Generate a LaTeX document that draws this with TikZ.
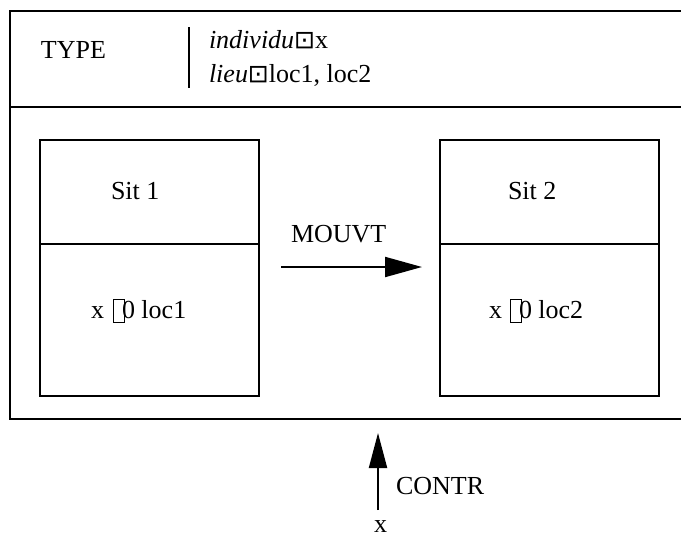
\documentclass[tikz,border=0pt]{standalone}
\usepackage{fontspec}
\setmainfont{Liberation Serif}
\newfontfamily\symfont{DejaVu Sans}
\usetikzlibrary{arrows.meta}
\newcommand{\missbox}{\raisebox{-4pt}{\fboxsep=0pt\fboxrule=1.2pt\framebox[12pt]{\rule{0pt}{22pt}}}}
\newcommand{\dotbox}{{\symfont\fontsize{25}{28}\selectfont ⊡}}
\begin{document}
\begin{tikzpicture}[x=1pt,y=-1pt,line width=2pt,
  lbl/.style={font=\fontsize{26}{30}\selectfont, inner sep=0pt, anchor=base west},
  sitbox/.style={draw, line width=2pt, inner sep=0pt, minimum width=219pt, anchor=north west},
  arr/.style={line width=2pt, -{Triangle[length=37pt,width=20pt]}}]
\useasboundingbox (0,0) rectangle (681,538);
\clip (0,0) rectangle (681,538);
% outer frame (open to the right)
\draw (700,11) -- (10,11) -- (10,419) -- (700,419);
\draw (10,107) -- (700,107);
% type header
\node[lbl] (type) at (40,58) {TYPE};
\coordinate (bar1) at (189,27);
\coordinate (bar2) at (189,88);
\draw (bar1) -- (bar2);
\node[lbl] (ind) at (208,48) {\textit{individu}\dotbox x};
\node[lbl] (lieu) at (208,82) {\textit{lieu}\dotbox loc1, loc2};
% situation 1
\node[sitbox, minimum height=104pt] (s1top) at (39,139) {};
\node[sitbox, minimum height=152pt] (s1bot) at (39,243) {};
\node[lbl] (s1t) at (110,199) {Sit 1};
\node[lbl] (s1b) at (90,318) {x\hspace{9pt}\missbox\kern-3pt 0 loc1};
% situation 2
\node[sitbox, minimum height=104pt] (s2top) at (439,139) {};
\node[sitbox, minimum height=152pt] (s2bot) at (439,243) {};
\node[lbl] (s2t) at (507,199) {Sit 2};
\node[lbl] (s2b) at (488,318) {x\hspace{8pt}\missbox\kern-3pt 0 loc2};
% movement arrow
\coordinate (m1) at (281,267);
\coordinate (m2) at (422,267);
\draw[arr] (m1) -- (m2);
\node[lbl] (mouvt) at (290,242) {MOUVT};
% control arrow
\coordinate (c1) at (378,510);
\coordinate (c2) at (378,433);
\draw[arr, -{Triangle[length=35pt,width=18pt]}] (c1) -- (c2);
\node[lbl] (contr) at (395,494) {CONTR};
\node[lbl] (xb) at (373,532) {x};
\end{tikzpicture}
\end{document}
